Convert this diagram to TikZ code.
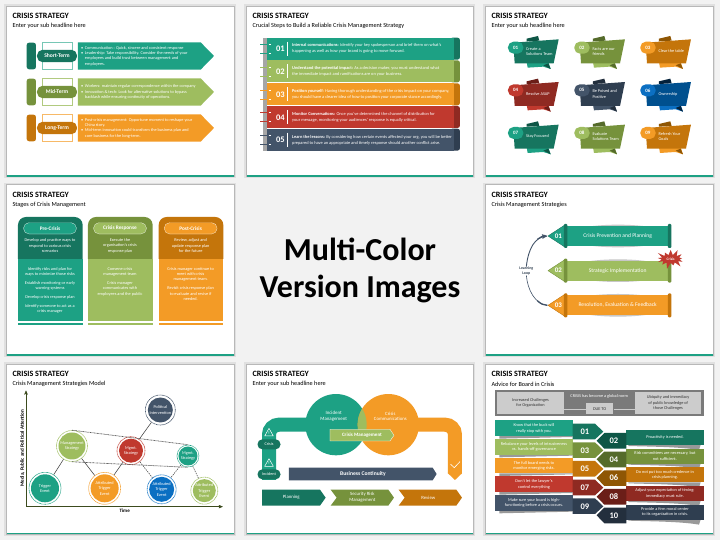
\documentclass[tikz,border=0pt]{standalone}
\usepackage{fontspec}
\setmainfont{Carlito}
\usetikzlibrary{arrows}
\usetikzlibrary{positioning}
\usetikzlibrary{shapes.symbols}
\definecolor{crisisteal}{HTML}{1DA184}
\definecolor{crisistealdk}{HTML}{16755F}
\definecolor{crisistealxd}{HTML}{0E5646}
\definecolor{crisisgreen}{HTML}{9EBD5F}
\definecolor{crisisgreendk}{HTML}{76923C}
\definecolor{crisisgreenxd}{HTML}{556B2B}
\definecolor{crisisorange}{HTML}{F39B26}
\definecolor{crisisorangedk}{HTML}{C4750B}
\definecolor{crisisorangexd}{HTML}{8F5604}
\definecolor{crisisred}{HTML}{C0392E}
\definecolor{crisisreddk}{HTML}{8F2A22}
\definecolor{crisisredxd}{HTML}{6B1E18}
\definecolor{crisisnavy}{HTML}{435469}
\definecolor{crisisnavydk}{HTML}{2F3E50}
\definecolor{crisisnavyxd}{HTML}{232F3D}
\definecolor{crisisblue}{HTML}{0B6FC2}
\definecolor{crisisbluedk}{HTML}{00508F}
\definecolor{crisisbg}{HTML}{F2F2F2}

% white sheet with its title, sub headline and bottom rule
\newcommand{\slidecard}[6]{%
  \fill[black!12] (#2-7,#3-7) rectangle (#4+5,#5+5);
  \fill[black!28] (#2-3,#3-3) rectangle (#4+2,#5+2);
  \fill[white] (#2,#3) rectangle (#4,#5);
  \fill[crisisteal] (#2,#5-5) rectangle (#4,#5);
  \node[head txt](title#1) at (#2+17,#3+28){CRISIS STRATEGY};
  \node[sub txt](sub#1) at (#2+17,#3+58){#6};
}
\newcommand{\itm}{\textbullet\hspace{1.6pt}}
\newcommand{\hng}{\hspace*{3.8pt}}
% first sheet
\newcommand{\termrow}[7]{%
  \fill[#3,rounded corners=2.5pt] (80,#2-40) rectangle (108,#2+40);
  \draw[#5,fill=white,line width=.8pt] (126,#2-40) rectangle (216,#2+40);
  \fill[#4] (234,#2-41) -- (602,#2-41) -- (642,#2) -- (602,#2+41) -- (234,#2+41) -- cycle;
  \node[pill,fill=#3,minimum width=40pt,minimum height=12.4pt,font=\fontsize{5.6}{5}\selectfont\bfseries](term#1) at (171,#2){#6};
  \node[small txt,anchor=west,align=left](termtxt#1) at (243,#2){#7};
}
% second sheet
\newcommand{\stepband}[7]{%
  \fill[#3,rounded corners=2.5pt] (630,#2) rectangle (660,#2+66);
  \fill[#4] (80,#2) rectangle (642,#2+66);
  \draw[#4,line width=.7pt] (60,#2+20) -- (86,#2+20);
  \draw[#4,line width=.7pt] (60,#2+47) -- (86,#2+47);
  \draw[white,line width=.7pt] (86,#2+20) -- (92,#2+20);
  \draw[white,line width=.7pt] (86,#2+47) -- (92,#2+47);
  \draw[white,line width=.7pt] (142,#2+12) -- (142,#2+54);
  \node[num txt](stepnum#1) at (121,#2+34){#5};
  \node[small txt,font=\fontsize{4.4}{6}\selectfont,anchor=west,align=left](steptxt#1) at (156,#2+33.5){\textbf{#6} #7};
}
% third sheet
\newcommand{\ribbon}[8]{%
  \begin{scope}[shift={(#2,#3)}]
  \fill[#6] (140,116) -- (174,108) -- (178,122) -- (140,124) -- cycle;
  \fill[#5] (140,186) -- (205,186) -- (212,207) -- (190,200) -- (143,203) -- cycle;
  \fill[#6] (190,196) -- (205,190) -- (212,207) -- cycle;
  \fill[#4] (100,128) -- (236,118) -- (221,190) -- (104,190) -- cycle;
  \node[pill,fill=#5,minimum width=15.4pt,minimum height=12pt,font=\fontsize{5}{5}\selectfont\bfseries](rib#1) at (107,143){#1};
  \node[small txt,anchor=west,align=left](ribtxt#1) at (138,154){#8};
  \end{scope}
}
% fourth sheet
\newcommand{\stagecol}[8]{%
  \fill[#4] (#2,237) [rounded corners=8pt] -- (#2,111) -- (#2+194,111) [sharp corners] -- (#2+194,237) -- cycle;
  \fill[#5] (#2,237) rectangle (#2+194,423);
  \fill[#5] (#2,428) rectangle (#2+194,434);
  \node[pill,fill=#5,draw=white,line width=.2pt,minimum width=53pt,minimum height=11.4pt,font=\fontsize{5.3}{5}\selectfont\bfseries](stage#1) at (#2+96,145){#3};
  \node[small txt](stageup#1) at (#2+96,197){#6};
  \node[small txt,anchor=north](stagelow#1) at (#2+96,#7){#8};
}
% fifth sheet
\newcommand{\barrow}[6]{%
  \fill[black!22] (414,#2) ellipse (158 and 34);
  \fill[#4] (258,#2-30) rectangle (570,#2+30);
  \draw[#3,fill=#4,line width=.4pt,line join=round] (204,#2) -- (256,#2-34) -- (256,#2+34) -- cycle;
  \fill[#3,rounded corners=1pt] (252,#2-36) rectangle (262,#2+36);
  \fill[#3,rounded corners=1pt] (564,#2-36) rectangle (574,#2+36);
  \node[inner sep=0pt](tip#1) at (204,#2){};
  \node[mid txt,font=\fontsize{7}{7}\selectfont\bfseries](barnum#1) at (235,#2){#5};
  \node[mid txt](bartxt#1) at (413,#2){#6};
}
% sixth sheet
\newcommand{\eventball}[7]{%
  \node[circle,draw=#5,dashed,dash pattern=on .8pt off .5pt,line width=.6pt,fill=white,inner sep=0pt,minimum size=#4pt](#1) at (#2,#3){};
  \node[circle,fill=#5,inner sep=0pt,minimum size=#4pt-#6pt,small txt,align=center](#1txt) at (#1){#7};
}
% last sheet
\newcommand{\adviceleft}[6]{%
  \fill[black!40] (58,#2+47) -- (278,#2+47) -- (278,#2+50) -- (58,#2+55) -- cycle;
  \fill[#3] (45,#2) rectangle (278,#2+47);
  \node[small txt](advl#1) at (162,#2+24){#6};
  \fill[#4] (278,#2+10) -- (345,#2+10) -- (370,#2+34) -- (345,#2+57) -- (278,#2+57) -- cycle;
  \node[num txt](advn#1) at (315,#2+34){#5};
}
\newcommand{\adviceright}[6]{%
  \fill[black!40] (445,#2+45) -- (662,#2+45) -- (657,#2+60) .. controls (600,#2+50) and (500,#2+50) .. (445,#2+48) -- cycle;
  \fill[#3] (439,#2) rectangle (672,#2+45);
  \node[small txt](advr#1) at (555,#2+22.5){#6};
  \fill[#4] (439,#2+9) -- (373,#2+9) -- (350,#2+32) -- (373,#2+56) -- (439,#2+56) -- cycle;
  \node[num txt](advn#1) at (402,#2+32){#5};
}

\begin{document}
\begin{tikzpicture}[x=1pt,y=-1pt,>=stealth',
    crop/.style 2 args={shift={(#1,#2)},x=0.3333pt,y=-0.3333pt},
    head txt/.style={anchor=west,inner sep=0pt,font=\fontsize{8.1}{9}\selectfont\bfseries,text=black},
    sub txt/.style={anchor=west,inner sep=0pt,font=\fontsize{6.25}{7}\selectfont,text=black},
    small txt/.style={inner sep=0pt,font=\fontsize{4.3}{5.33}\selectfont,text=white,align=center},
    mid txt/.style={inner sep=0pt,font=\fontsize{5.6}{6}\selectfont,text=white,align=center},
    num txt/.style={inner sep=0pt,font=\fontsize{8.5}{9}\selectfont\bfseries,text=white},
    pill/.style={rectangle,rounded corners=5.6pt,inner sep=0pt,text=white},
    link/.style={draw=black!75,line width=.55pt},
    dash link/.style={link,dashed,dash pattern=on 1.4pt off 1pt},
    dot link/.style={draw=black!65,line width=.7pt,dash pattern=on .8pt off .6pt},
    axis line/.style={draw=crisisgreenxd!70!black,line width=.5pt,<->},
    loop line/.style={draw=crisisnavy,line width=.6pt},
    gray box/.style={rectangle,fill=black!20,inner sep=0pt,text=black!80,align=center,font=\fontsize{4.3}{5.33}\selectfont},
    chevron txt/.style={small txt,font=\fontsize{4.8}{6}\selectfont}
    ]
\useasboundingbox (0,0) rectangle (720,540);
\fill[crisisbg] (0,0) rectangle (720,540);

\node[inner sep=0pt,align=center,font=\fontsize{32}{37}\selectfont\bfseries](bigtitle) at (360,270.5){Multi-Color\\Version Images};

% ---- sheet one
\begin{scope}[crop={0}{0}]
\slidecard{1}{20}{20}{703}{530}{Enter your sub headline here}
\termrow{1}{168}{crisistealdk}{crisisteal}{crisisteal!60}{Short-Term}{\itm Communication : Quick, sincere and consistent response\\\itm Leadership: Take responsibility. Consider the needs of your\\\hng employees and build trust between management and\\\hng employees.}
\termrow{2}{276}{crisisgreendk}{crisisgreen}{crisisgreen!80}{Mid-Term}{\itm Workers: maintain regular correspondence within the company\\\itm Innovation \& tech: Look for alternative solutions to bypass\\\hng backlash while ensuring continuity of operations.}
\termrow{3}{384}{crisisorangedk}{crisisorange}{crisisorange!70}{Long-Term}{\itm Post-crisis management: Opportune moment to reshape your\\\hng China story.\\\itm Mid-term innovation could transform the business plan and\\\hng core business for the long-term.}
\end{scope}

% ---- sheet two
\begin{scope}[crop={240}{0}]
\slidecard{2}{20}{20}{700}{530}{Crucial Steps to Build a Reliable Crisis Management Strategy}
\fill[black!35] (69,113) rectangle (80,452);
\stepband{1}{113}{crisistealdk}{crisisteal}{01}{Internal communications:}{Identify your key spokesperson and brief them on what's\\happening as well as how your brand is going to move forward.}
\stepband{2}{181}{crisisgreendk}{crisisgreen}{02}{Understand the potential impact:}{As a decision maker, you must understand what\\the immediate impact and ramifications are on your business.}
\stepband{3}{250}{crisisorangedk}{crisisorange}{03}{Position yourself:}{Having thorough understanding of the crisis impact on your company,\\you should have a clearer idea of how to position your corporate stance accordingly.}
\stepband{4}{318}{crisisreddk}{crisisred}{04}{Monitor Conversations:}{Once you've determined the channel of distribution for\\your message, monitoring your audiences' response is equally critical.}
\stepband{5}{386}{crisisnavydk}{crisisnavy}{05}{Learn the lessons:}{By considering how certain events affected your org, you will be better\\prepared to have an appropriate and timely response should another conflict arise.}
\end{scope}

% ---- sheet three
\begin{scope}[crop={480}{0}]
\slidecard{3}{17}{20}{700}{530}{Enter your sub headline here}
\ribbon{01}{0}{0}{crisistealdk}{crisisteal}{crisistealxd}{}{Create a\\Solutions Team}
\ribbon{02}{199}{0}{crisisgreendk}{crisisgreen}{crisisgreenxd}{}{Facts are our\\friends}
\ribbon{03}{397}{0}{crisisorangedk}{crisisorange}{crisisorangexd}{}{Clear the table}
\ribbon{04}{0}{128}{crisisreddk}{crisisred}{crisisredxd}{}{Resolve ASAP}
\ribbon{05}{199}{128}{crisisnavydk}{crisisnavy}{crisisnavyxd}{}{Be Poised and\\Positive}
\ribbon{06}{397}{128}{crisisbluedk}{crisisblue}{black!70!crisisblue}{}{Ownership}
\ribbon{07}{0}{256}{crisistealdk}{crisisteal}{crisistealxd}{}{Stay Focused}
\ribbon{08}{199}{256}{crisisgreendk}{crisisgreen}{crisisgreenxd}{}{Evaluate\\Solutions Team}
\ribbon{09}{397}{256}{crisisorangedk}{crisisorange}{crisisorangexd}{}{Refresh Your\\Goals}
\end{scope}

% ---- sheet four
\begin{scope}[crop={0}{180}]
\slidecard{4}{20}{16}{703}{527}{Stages of Crisis Management}
\stagecol{1}{54}{Pre-Crisis}{crisistealdk}{crisisteal}{Develop and practice ways to\\respond to various crisis\\scenarios}{261}{Identify risks and plan for\\ways to minimize those risks\\[3.6pt]Establish monitoring or early\\warning systems\\[3.6pt]Develop crisis response plan\\[3.6pt]Identify someone to act as a\\crisis manager}
\stagecol{2}{264}{Crisis Response}{crisisgreendk}{crisisgreen}{Execute the\\organisation's crisis\\response plan}{261}{Convene crisis\\management team\\[3.6pt]Crisis manager\\communicates with\\employees and the public}
\stagecol{3}{476}{Post-Crisis}{crisisorangedk}{crisisorange}{Review, adjust and\\update response plan\\for the future}{261}{Crisis manager continue to\\meet with crisis\\management team.\\[3.6pt]Revisit crisis response plan\\to evaluate and revise if\\needed.}
\end{scope}

% ---- sheet five
\begin{scope}[crop={480}{180}]
\slidecard{5}{17}{16}{700}{527}{Crisis Management Strategies}
\barrow{1}{168}{crisistealdk}{crisisteal}{01}{Crisis Prevention and Planning}
\barrow{2}{272}{crisisgreendk}{crisisgreen}{02}{Strategic Implementation}
\barrow{3}{376}{crisisorangedk}{crisisorange}{03}{Resolution, Evaluation \& Feedback}
\node[inner sep=0pt,align=center,font=\fontsize{3.9}{5.2}\selectfont\bfseries,text=crisisnavydk](loop) at (139,273){Learning\\Loop};
\draw[loop line,->,line width=.9pt] (loop.north) .. controls (145,205) and (165,172) .. (tip1.west);
\draw[crisisnavy,line width=1.2pt] (172,178) .. controls (180,172) and (188,168) .. (196,166);
\draw[loop line] (loop.south) .. controls (143,330) and (165,372) .. (tip3.west);
\draw[crisisnavy,line width=1.3pt] (172,362) .. controls (182,372) and (192,376) .. (tip3.west);
\node[starburst,starburst points=13,starburst point height=7pt,fill=crisisred,minimum width=32pt,minimum height=22pt,inner sep=0pt,text=white,font=\fontsize{3.6}{4}\selectfont\bfseries](burst) at (572,237){Crisis};
\end{scope}

% ---- sheet six
\begin{scope}[crop={0}{360}]
\slidecard{6}{20}{14}{703}{523}{Crisis Management Strategies Model}
\coordinate(ytop) at (78,92);
\coordinate(orig) at (78,440);
\coordinate(xend) at (668,440);
\path[axis line] (ytop) -- (orig) -- (xend);
\node[inner sep=0pt,rotate=90,font=\fontsize{5.1}{5}\selectfont\bfseries](ylab) at (67,265){Media, Public and Political Attention};
\node[inner sep=0pt,font=\fontsize{5}{5}\selectfont\bfseries](xlab) at (374,453){Time};
\eventball{pol}{481}{150}{30}{crisisnavy}{5}{Political\\Intervention}
\eventball{mgA}{216}{258}{31}{crisisgreen}{4}{Management\\Strategy}
\eventball{mgB}{393}{272}{28}{crisisred}{4}{Mgmt.\\Strategy}
\eventball{mgC}{564}{288}{22}{crisisteal}{3}{Mgmt.\\Strategy}
\eventball{trA}{135}{385}{32}{crisisteal}{4}{Trigger\\Event}
\eventball{trB}{314}{385}{32}{crisisorange}{4}{Attributed\\Trigger\\Event}
\eventball{trC}{485}{388}{29}{crisisblue}{4}{Attributed\\Trigger\\Event}
\eventball{trD}{613}{392}{27}{crisisgreen}{4}{Attributed\\Trigger\\Event}
\path[link]
  (pol) edge (mgB)
  (mgA) edge (trA)
  (mgA) edge (trB)
  (mgB) edge (trB);
\path[dash link]
  (mgB) edge (trC)
  (mgC) edge (trC)
  (mgC) edge (trD);
\path[dot link]
  (mgA.north) edge (mgC.north)
  (mgA.south) edge (mgC.south);
\end{scope}

% ---- sheet seven
\begin{scope}[crop={240}{360}]
\slidecard{7}{20}{14}{700}{523}{Enter your sub headline here}
\draw[crisisteal,line width=14pt,rounded corners=10pt] (87,360) -- (87,194) -- (210,194);
\draw[crisisorange,line width=14pt,rounded corners=10pt] (525,194) -- (645,194) -- (645,340);
\fill[crisisorange] (624,338) -- (666,338) -- (666,340) -- (645,360) -- (624,340) -- cycle;
\draw[white,line width=.6pt] (632,313) -- (643,323) -- (660,305);
\node[circle,fill=crisisteal,inner sep=0pt,minimum size=61.3pt](incident) at (288,194){};
\node[circle,fill=crisisorange,inner sep=0pt,minimum size=61.3pt](comms) at (445,194){};
\begin{scope}
\clip (288,194) circle[radius=92];
\fill[crisisgreen] (445,194) circle[radius=92];
\end{scope}
\node[small txt,font=\fontsize{4.9}{5.9}\selectfont](inctxt) at (281,169){Incident\\Management};
\node[small txt,font=\fontsize{4.8}{5.9}\selectfont](comtxt) at (451,169){Crisis\\Communications};
\draw[white,fill=crisisgreen,line width=.3pt] (270,208) -- (450,208) -- (462,226) -- (450,243) -- (270,243) -- cycle;
\node[mid txt,font=\fontsize{5}{5}\selectfont\bfseries](cmtxt) at (366,226){Crisis Management};
\draw[white,line width=.5pt,line join=round] (87,205) -- (100,228) -- (74,228) -- cycle;
\draw[white,line width=.5pt,line join=round] (87,296) -- (100,319) -- (74,319) -- cycle;
\node[white,inner sep=0pt,font=\fontsize{4}{4}\selectfont\bfseries](warnA) at (87,219){!};
\node[white,inner sep=0pt,font=\fontsize{4}{4}\selectfont\bfseries](warnB) at (87,310){!};
\node[pill,fill=crisistealdk,minimum width=23pt,minimum height=10pt,rounded corners=4.8pt,font=\fontsize{4.2}{5}\selectfont](crisispill) at (87,253){Crisis};
\node[pill,fill=crisistealdk,minimum width=23pt,minimum height=10pt,rounded corners=4.8pt,font=\fontsize{4.2}{5}\selectfont](incidentpill) at (87,343){Incident};
\fill[crisisnavy] (147,323) -- (578,323) -- (590,342) -- (578,361) -- (147,361) -- cycle;
\node[mid txt,font=\fontsize{5.6}{6}\selectfont\bfseries](bc) at (369,342){Business Continuity};
\fill[crisistealdk] (66,389) -- (240,389) -- (257,413) -- (240,437) -- (66,437) -- cycle;
\node[chevron txt](plan) at (154,413){Planning};
\fill[crisisgreendk] (272,389) -- (445,389) -- (462,413) -- (445,437) -- (272,437) -- (290,413) -- cycle;
\node[chevron txt](secrisk) at (367,413){Security Risk\\Management};
\fill[crisisorangedk] (476,389) -- (649,389) -- (666,413) -- (649,437) -- (476,437) -- (494,413) -- cycle;
\node[chevron txt](review) at (565,413){Review};
\end{scope}

% ---- sheet eight
\begin{scope}[crop={480}{360}]
\slidecard{8}{17}{14}{700}{523}{Advice for Board in Crisis}
\fill[black!52] (45,90) rectangle (671,168);
\node[small txt](norm) at (358,108){CRISIS has become a global norm};
\node[gray box,minimum width=66.3pt,minimum height=21.7pt](boxA) at (151.5,129.5){Increased Challenges\\for Organization};
\node[gray box,minimum width=66.3pt,minimum height=21.7pt](boxB) at (564.5,129.5){Ubiquity and immediacy\\of public knowledge of\\those Challenges};
\node[gray box,minimum width=27.3pt,minimum height=11pt](dueto) at (359,147){DUE TO};
\draw[black!20,line width=.7pt] (boxA.east|-dueto.west) -- (dueto.west);
\draw[black!20,line width=.7pt] (dueto.east) -- (boxB.west|-dueto.east);
\adviceleft{1}{181}{crisisteal}{crisistealdk}{01}{Know that the buck will\\really stop with you.}
\adviceleft{3}{237}{crisisgreen}{crisisgreendk}{03}{Rebalance your levels of intrusiveness\\vs. hands-off governance}
\adviceleft{5}{293}{crisisorange}{crisisorangedk}{05}{The full board needs to\\monitor emerging risks.}
\adviceleft{7}{349}{crisisred}{crisisreddk}{07}{Don't let the lawyer's\\control everything}
\adviceleft{9}{405}{crisisnavy}{crisisnavydk}{09}{Make sure your board is high-\\functioning before a crisis occurs.}
\adviceright{2}{210}{crisistealdk}{crisistealxd}{02}{Proactivity is needed.}
\adviceright{4}{266}{crisisgreendk}{crisisgreenxd}{04}{Risk committees are necessary, but\\not sufficient.}
\adviceright{6}{322}{crisisorangedk}{crisisorangexd}{06}{Do not put too much credence in\\crisis planning.}
\adviceright{8}{378}{crisisreddk}{crisisredxd}{08}{Adjust your expectation of timing;\\immediacy must rule.}
\adviceright{10}{434}{crisisnavydk}{crisisnavyxd}{10}{Provide a firm moral center\\to its organization in crisis.}
\end{scope}
\end{tikzpicture}
\end{document}
